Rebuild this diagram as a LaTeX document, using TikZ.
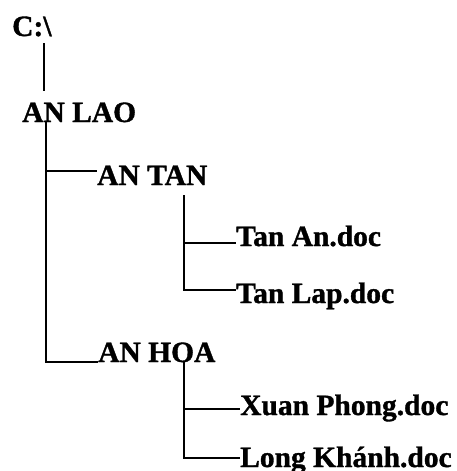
\documentclass[tikz,border=0pt]{standalone}
\usepackage{fontspec}
\setmainfont{Liberation Serif}
\newfontfamily\tbold{Liberation Serif Bold}[FakeBold=1.2]
\usetikzlibrary{calc}
\begin{document}
\begin{tikzpicture}[x=1pt,y=-1pt,
  lbl/.style={anchor=base west,inner sep=0pt,font=\tbold\fontsize{29.5}{32}\selectfont},
  conn/.style={line width=2pt}]
\useasboundingbox (0,0) rectangle (456,471);
\node[lbl] (root) at (12,36) {C:\textbackslash};
\node[lbl] (lao) at (22,122) {AN LAO};
\node[lbl] (tan) at (97,185) {AN TAN};
\node[lbl] (tanan) at (236,246) {Tan An.doc};
\node[lbl] (tanlap) at (236,303) {Tan Lap.doc};
\node[lbl] (hoa) at (98,362) {AN HOA};
\node[lbl] (xuan) at (240,415) {Xuan Phong.doc};
\node[lbl] (long) at (240,467) {Long Khánh.doc};
% connectors
\draw[conn] ($(root.base west)+(32,7)$) -- ($(root.base west)+(32,55)$);
\draw[conn] ($(lao.base west)+(24,0)$) |- (hoa.base west);
\draw[conn] ($(lao.base west)+(24,0)$) |- ($(tan.base west)+(0,-14)$);
\draw[conn] ($(tan.base west)+(87,10)$) |- ($(tanlap.base west)+(0,-13)$);
\draw[conn] ($(tan.base west)+(87,10)$) |- ($(tanan.base west)+(0,-3)$);
\draw[conn] ($(hoa.base west)+(86,0)$) |- ($(long.base west)+(0,-9)$);
\draw[conn] ($(hoa.base west)+(86,0)$) |- ($(xuan.base west)+(0,-6)$);
\end{tikzpicture}
\end{document}
